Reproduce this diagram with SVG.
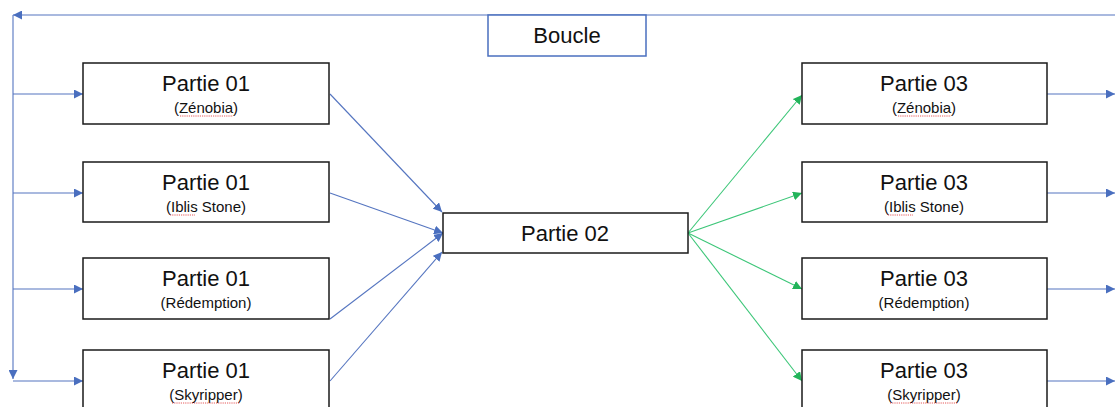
<svg xmlns="http://www.w3.org/2000/svg" width="1115" height="407" viewBox="0 0 1115 407">
  <style>
    .box { fill: #ffffff; stroke: #1a1a1a; stroke-width: 1.5; }
    .loop { fill: #ffffff; stroke: #4a6fbf; stroke-width: 1.5; }
    .title { font-family: "Liberation Sans", Arial, sans-serif; font-size: 22px; fill: #111111; text-anchor: middle; }
    .sub { font-family: "Liberation Sans", Arial, sans-serif; font-size: 15px; fill: #111111; text-anchor: middle; }
    .blue { stroke: #5575c0; stroke-width: 1.1; fill: none; marker-end: url(#ab); }
    .green { stroke: #3cc678; stroke-width: 1.1; fill: none; marker-end: url(#ag); }
    .squig { stroke: #e03030; stroke-width: 0.8; fill: none; stroke-dasharray: 1.2 1; }
  </style>
  <defs>
    <marker id="ab" viewBox="0 0 10 10" refX="10" refY="5" markerWidth="9" markerHeight="9" markerUnits="userSpaceOnUse" orient="auto">
      <path d="M0,0 L10,5 L0,10 Z" fill="#4a6fbf"/>
    </marker>
    <marker id="ag" viewBox="0 0 10 10" refX="10" refY="5" markerWidth="9" markerHeight="9" markerUnits="userSpaceOnUse" orient="auto">
      <path d="M0,0 L10,5 L0,10 Z" fill="#22b45a"/>
    </marker>
  </defs>
  <rect width="1115" height="407" fill="#ffffff"/>

  <g id="connectors">
    <!-- feedback loop: top line back to the left rail -->
    <path class="blue" d="M1115,15 H13"/>
    <path class="blue" d="M13,15 V379"/>
    <!-- rail to the Partie 01 boxes -->
    <path class="blue" d="M13,94 H83"/>
    <path class="blue" d="M13,193 H83"/>
    <path class="blue" d="M13,289 H83"/>
    <path class="blue" d="M13,381 H83"/>
    <!-- Partie 01 to Partie 02 -->
    <path class="blue" d="M330,94 L442,212"/>
    <path class="blue" d="M330,193 L443,233"/>
    <path class="blue" d="M330,319 L443,233"/>
    <path class="blue" d="M330,381 L442,252"/>
    <!-- Partie 02 to Partie 03 -->
    <path class="green" d="M688,233 L802,95"/>
    <path class="green" d="M688,233 L802,193"/>
    <path class="green" d="M688,233 L802,289"/>
    <path class="green" d="M688,233 L802,381"/>
    <!-- Partie 03 outputs -->
    <path class="blue" d="M1047,94 H1115"/>
    <path class="blue" d="M1047,193 H1115"/>
    <path class="blue" d="M1047,289 H1115"/>
    <path class="blue" d="M1047,381 H1115"/>
  </g>

  <g id="boucle">
    <rect class="loop" x="488" y="15" width="158" height="41"/>
    <text class="title" x="567" y="43">Boucle</text>
  </g>

  <g id="p01-zenobia">
    <rect class="box" x="83" y="63" width="246" height="61"/>
    <text class="title" x="206" y="91">Partie 01</text>
    <text class="sub" x="206" y="113">(Zénobia)</text>
    <path class="squig" d="M180,116 H233"/>
  </g>
  <g id="p01-iblis">
    <rect class="box" x="83" y="162" width="246" height="60"/>
    <text class="title" x="206" y="190">Partie 01</text>
    <text class="sub" x="206" y="212">(Iblis Stone)</text>
    <path class="squig" d="M170,215 H195"/>
  </g>
  <g id="p01-redemption">
    <rect class="box" x="83" y="258" width="246" height="61"/>
    <text class="title" x="206" y="286">Partie 01</text>
    <text class="sub" x="206" y="308">(Rédemption)</text>
  </g>
  <g id="p01-skyripper">
    <rect class="box" x="83" y="350" width="246" height="62"/>
    <text class="title" x="206" y="378">Partie 01</text>
    <text class="sub" x="206" y="400">(Skyripper)</text>
    <path class="squig" d="M172,403 H240"/>
  </g>

  <g id="p02">
    <rect class="box" x="443" y="213" width="245" height="40"/>
    <text class="title" x="565" y="241">Partie 02</text>
  </g>

  <g id="p03-zenobia">
    <rect class="box" x="802" y="63" width="245" height="61"/>
    <text class="title" x="924" y="91">Partie 03</text>
    <text class="sub" x="924" y="113">(Zénobia)</text>
    <path class="squig" d="M898,116 H951"/>
  </g>
  <g id="p03-iblis">
    <rect class="box" x="802" y="162" width="245" height="60"/>
    <text class="title" x="924" y="190">Partie 03</text>
    <text class="sub" x="924" y="212">(Iblis Stone)</text>
    <path class="squig" d="M888,215 H913"/>
  </g>
  <g id="p03-redemption">
    <rect class="box" x="802" y="258" width="245" height="61"/>
    <text class="title" x="924" y="286">Partie 03</text>
    <text class="sub" x="924" y="308">(Rédemption)</text>
  </g>
  <g id="p03-skyripper">
    <rect class="box" x="802" y="350" width="245" height="62"/>
    <text class="title" x="924" y="378">Partie 03</text>
    <text class="sub" x="924" y="400">(Skyripper)</text>
    <path class="squig" d="M890,403 H958"/>
  </g>
</svg>
